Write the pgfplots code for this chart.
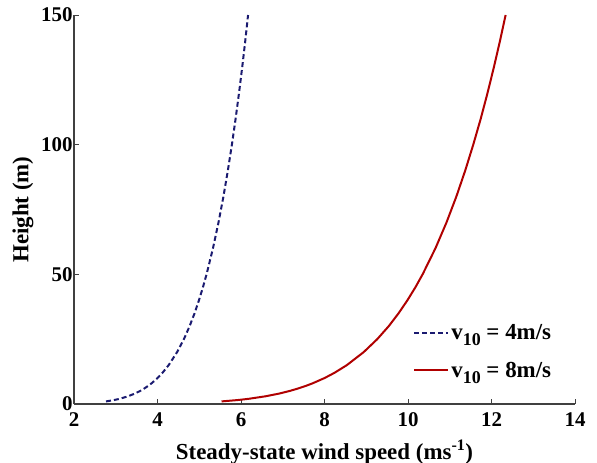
\documentclass[border=0pt]{standalone}
\usepackage{fontspec}
\setmainfont{Liberation Serif}
\usepackage{pgfplots}
\pgfplotsset{compat=1.18}
\definecolor{cblue}{HTML}{1A1A70}
\definecolor{cred}{HTML}{B00000}
\definecolor{axgray}{HTML}{404040}
\newcommand{\vsub}{v\raisebox{-0.55ex}{\fontsize{18}{18}\selectfont 10}}
\begin{document}
\begin{tikzpicture}
\path[use as bounding box] (-74bp,-59bp) rectangle (523bp,404bp);
\begin{axis}[
  at={(0,0)}, anchor=south west,
  scale only axis,
  width=501bp, height=389bp,
  xmin=2, xmax=14, ymin=0, ymax=150,
  xtick={2,4,...,14}, ytick={0,50,100,150},
  axis x line*=bottom, axis y line*=left,
  axis line style={axgray, line width=1.1pt},
  tick style={axgray, line width=0.8pt},
  tick align=inside,
  major tick length=5bp,
  /pgf/number format/assume math mode=true,
  tick label style={font=\fontsize{21}{24}\selectfont\bfseries},
  label style={font=\fontsize{23}{26}\selectfont\bfseries},
  xlabel={Steady-state wind speed (ms\textsuperscript{-1})},
  ylabel={Height (m)},
  xticklabel style={yshift=-5bp},
  yticklabel style={xshift=2bp},
  xlabel style={at={(axis description cs:0.5,-0.1414)}, anchor=base},
  ylabel style={at={(axis description cs:-0.1018,0.5)}, anchor=center, rotate=0},
  legend style={draw=none, fill=none, at={(rel axis cs:0.677,0.21)}, anchor=north west,
    font=\fontsize{23}{26}\selectfont\bfseries, row sep=17bp, inner sep=0pt},
  legend cell align=left,
  legend image code/.code={\draw[#1] (0bp,0bp) -- (34bp,0bp);},
]
\addplot[cblue, line width=2pt, dash pattern=on 5bp off 3bp, line join=round] coordinates {
(2.767,1) (2.953,1.5) (3.092,2) (3.299,3) (3.454,4) (3.580,5) (3.686,6) (3.778,7) (3.860,8) (4.000,10)
(4.118,12) (4.268,15) (4.469,20) (4.632,25) (4.769,30) (4.888,35) (4.993,40) (5.088,45) (5.175,50) (5.328,60) (5.461,70)
(5.579,80) (5.685,90) (5.782,100) (5.871,110) (5.953,120) (6.030,130) (6.102,140) (6.169,150)
};
\addlegendentry{\vsub{} = 4m/s}
\addplot[cred, line width=2pt, line join=round] coordinates {
(5.534,1) (5.906,1.5) (6.184,2) (6.598,3) (6.909,4) (7.160,5) (7.372,6) (7.556,7) (7.719,8) (8.000,10)
(8.237,12) (8.536,15) (8.938,20) (9.263,25) (9.538,30) (9.775,35) (9.986,40) (10.177,45) (10.350,50) (10.656,60) (10.922,70)
(11.158,80) (11.370,90) (11.563,100) (11.742,110) (11.906,120) (12.059,130) (12.203,140) (12.338,150)
};
\addlegendentry{\vsub{} = 8m/s}
\end{axis}
\end{tikzpicture}
\end{document}
